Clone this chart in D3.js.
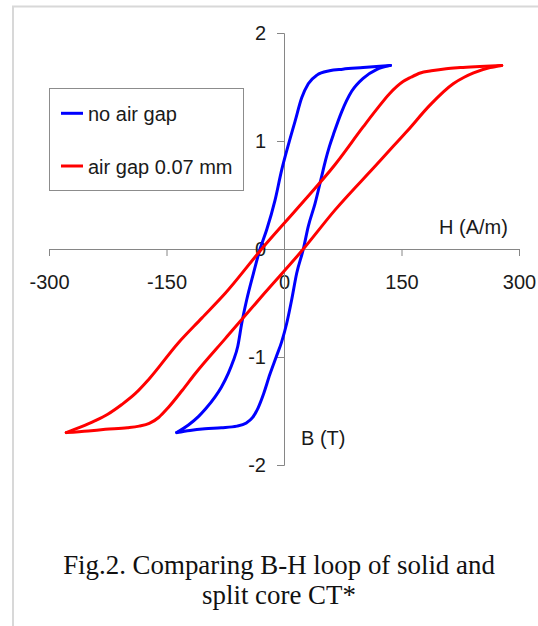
<!DOCTYPE html>
<html>
<head>
<meta charset="utf-8">
<script src="https://cdn.jsdelivr.net/npm/d3@7"></script>
<style>
  html, body { margin: 0; padding: 0; background: #ffffff; }
  svg { display: block; }
</style>
</head>
<body>
<svg id="chart" width="538" height="626"></svg>
<script>
// ---- Data (H in A/m, B in T) ----
const blueDesc = [[136,1.70],[118,1.69],[101,1.68],[75,1.665],[58,1.65],[42,1.61],[31,1.53],[22.6,1.40],[14,1.18],[5,0.95],[-3,0.73],[-11.5,0.45],[-22,0.18],[-30.6,0],[-39,-0.225],[-47.6,-0.47],[-54,-0.69],[-59,-0.90],[-65,-1.04],[-71,-1.15],[-80,-1.28],[-88,-1.37],[-100,-1.48],[-109,-1.55],[-122,-1.63],[-137,-1.70]];
const blueAsc = [[-137,-1.70],[-120,-1.68],[-101,-1.665],[-80,-1.655],[-60,-1.64],[-48,-1.61],[-40,-1.56],[-33,-1.47],[-26,-1.34],[-18,-1.16],[-10,-1.00],[-3,-0.86],[3.4,-0.69],[9.8,-0.47],[16.2,-0.225],[24.7,0],[31,0.21],[39.6,0.42],[48,0.67],[53,0.82],[58,0.95],[64,1.08],[73.6,1.27],[86.4,1.46],[101,1.58],[118,1.66],[136,1.70]];
const redDesc = [[278,1.70],[250,1.69],[225,1.68],[207,1.67],[188,1.65],[174,1.63],[162,1.59],[152,1.55],[135,1.44],[118,1.29],[101,1.13],[65,0.78],[20,0.40],[-28.5,0],[-75,-0.41],[-105,-0.64],[-135,-0.87],[-173,-1.21],[-190,-1.34],[-207,-1.44],[-225,-1.53],[-241,-1.59],[-260,-1.65],[-278,-1.70]];
const redAsc = [[-278,-1.70],[-250,-1.685],[-228,-1.67],[-200,-1.655],[-185,-1.64],[-172,-1.615],[-160,-1.56],[-148,-1.47],[-130,-1.31],[-114,-1.16],[-75,-0.83],[-25,-0.41],[24.7,0],[65,0.36],[118,0.78],[140,0.955],[157,1.09],[186,1.33],[216,1.53],[230,1.59],[242,1.63],[263,1.68],[278,1.70]];

const seriesNames = ["no air gap", "air gap 0.07 mm"];
const seriesColors = ["#0000ff", "#ff0000"];
const xTicks = [-300, -150, 0, 150, 300];
const yTicks = [-2, -1, 0, 1, 2];
const xTitle = "H (A/m)";
const yTitle = "B (T)";
const captionLines = ["Fig.2. Comparing B-H loop of solid and", "split core CT*"];

// ---- Drawing ----
const svg = d3.select("#chart");
const W = 538, H = 626;
svg.append("rect").attr("width", W).attr("height", H).attr("fill", "#ffffff");

// page frame (light gray)
svg.append("line").attr("x1", 13).attr("x2", 13).attr("y1", 6).attr("y2", H)
  .attr("stroke", "#d8d8d8").attr("stroke-width", 2);
svg.append("line").attr("x1", 12).attr("x2", W).attr("y1", 6.5).attr("y2", 6.5)
  .attr("stroke", "#d8d8d8").attr("stroke-width", 2);

const x = d3.scaleLinear().domain([-300, 300]).range([49, 519]);
const y = d3.scaleLinear().domain([-2, 2]).range([465, 33]);

const axisColor = "#868686";
const sans = "'Liberation Sans', Arial, sans-serif";

const gx = svg.append("g").attr("transform", `translate(0,${y(0)})`)
  .call(d3.axisBottom(x).tickValues(xTicks).tickSize(7).tickPadding(19).tickFormat(d3.format("d")));
const gy = svg.append("g").attr("transform", `translate(${x(0)},0)`)
  .call(d3.axisLeft(y).tickValues(yTicks).tickSize(7).tickPadding(11).tickFormat(d3.format("d")));

[gx, gy].forEach(g => {
  g.select(".domain").attr("stroke", axisColor).attr("stroke-width", 1);
  g.selectAll(".tick line").attr("stroke", axisColor).attr("stroke-width", 1);
  g.selectAll(".tick text").attr("fill", "#1a1a1a").style("font-family", sans).style("font-size", "20px");
});
gx.selectAll(".tick text").text(d => d < 0 ? "-" + Math.abs(d) : d);
gy.selectAll(".tick text").text(d => d < 0 ? "-" + Math.abs(d) : d);

// axis titles
svg.append("text").attr("x", 439).attr("y", 234).text(xTitle)
  .attr("fill", "#1a1a1a").style("font-family", sans).style("font-size", "20px");
svg.append("text").attr("x", 301).attr("y", 444.5).text(yTitle)
  .attr("fill", "#1a1a1a").style("font-family", sans).style("font-size", "20px");

// curves: each branch is monotone in H, so draw with a monotone spline
const line = d3.line().x(d => x(d[0])).y(d => y(d[1])).curve(d3.curveMonotoneX);
const branches = [
  { data: blueDesc, s: 0 }, { data: blueAsc, s: 0 },
  { data: redDesc, s: 1 }, { data: redAsc, s: 1 }
];
svg.append("g").selectAll("path").data(branches).join("path")
  .attr("d", d => line(d.data.slice().sort((a, b) => a[0] - b[0])))
  .attr("fill", "none")
  .attr("stroke", d => seriesColors[d.s])
  .attr("stroke-width", 3)
  .attr("stroke-linecap", "round")
  .attr("stroke-linejoin", "round");

// legend
const lg = svg.append("g");
lg.append("rect").attr("x", 49.5).attr("y", 88.5).attr("width", 194).attr("height", 102)
  .attr("fill", "#ffffff").attr("stroke", "#8c8c8c").attr("stroke-width", 1);
const legY = [113.3, 166];
seriesNames.forEach((name, i) => {
  lg.append("line").attr("x1", 61).attr("x2", 83).attr("y1", legY[i]).attr("y2", legY[i])
    .attr("stroke", seriesColors[i]).attr("stroke-width", 3);
  lg.append("text").attr("x", 88).attr("y", legY[i] + 7.5).text(name)
    .attr("fill", "#1a1a1a").style("font-family", sans).style("font-size", "20px");
});

// caption (serif), fitted to reference width
const serif = "'Liberation Serif', 'Times New Roman', serif";
const cap = svg.append("g");
const c1 = cap.append("text").attr("x", 279).attr("y", 573.5).attr("text-anchor", "middle")
  .text(captionLines[0]).attr("fill", "#111").style("font-family", serif).style("font-size", "24px");
const len = c1.node().getComputedTextLength();
const fs = 24 * 432 / len;
c1.style("font-size", fs + "px");
cap.append("text").attr("x", 279).attr("y", 603.5).attr("text-anchor", "middle")
  .text(captionLines[1]).attr("fill", "#111").style("font-family", serif).style("font-size", fs + "px");
</script>
</body>
</html>
